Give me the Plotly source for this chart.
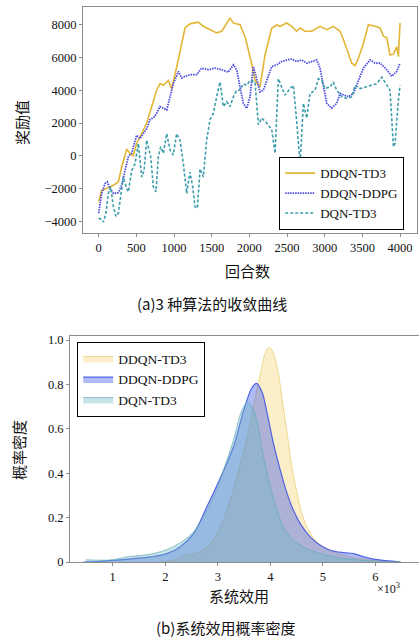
import plotly.graph_objects as go

# ---------------- data: (a) convergence curves ----------------
td3_x = [0, 40, 106, 195, 261, 305, 372, 416, 460, 504, 549, 637, 704, 770, 814, 858, 925, 969, 1035, 1102,
         1146, 1212, 1323, 1389, 1478, 1566, 1633, 1743, 1788, 1876, 1947, 1987, 2031, 2075, 2142, 2208, 2296, 2363, 2407, 2496,
         2562, 2628, 2673, 2739, 2828, 2938, 3027, 3115, 3204, 3248, 3292, 3359, 3403, 3447, 3513, 3580, 3668, 3735, 3779, 3823,
         3867, 3912, 3956, 3978, 4000]
td3_y = [-2800, -2100, -2000, -1800, -1600, -700, 400, 150, 0, 750, 1150, 2000, 3000, 4000, 4400, 4300, 4600, 4100, 5400, 6900,
         7800, 8050, 8150, 7900, 7700, 7500, 7600, 8400, 8100, 8000, 7200, 6500, 5600, 4600, 4200, 6150, 7780, 7980, 7900, 8100,
         7900, 7600, 7800, 7600, 7600, 7900, 7700, 7900, 7600, 7100, 6500, 5650, 5500, 5950, 6850, 8000, 7900, 7800, 7300, 7200,
         6150, 6200, 6650, 6050, 8100]

ddpg_x = [0, 40, 84, 115, 150, 195, 261, 305, 350, 394, 438, 482, 504, 549, 593, 637, 681, 748, 814, 858,
          903, 947, 991, 1058, 1102, 1146, 1212, 1301, 1367, 1456, 1544, 1633, 1721, 1788, 1832, 1876, 1920, 1965, 2009, 2053,
          2097, 2142, 2186, 2230, 2297, 2363, 2429, 2496, 2562, 2628, 2695, 2761, 2828, 2894, 2938, 2982, 3027, 3093, 3159, 3204,
          3270, 3314, 3381, 3447, 3513, 3602, 3668, 3735, 3823, 3890, 3956, 4000]
ddpg_y = [-3500, -2300, -1700, -1600, -2000, -2300, -2250, -1800, -900, -50, 150, 950, 1250, 1050, 1350, 1650, 2200, 2400, 3000, 2900,
          2800, 3600, 4400, 5150, 4750, 4850, 4950, 4950, 5350, 5250, 5350, 5250, 5100, 5550, 5250, 4200, 3200, 2900, 3600, 5450,
          4600, 3900, 4000, 4600, 5450, 5550, 5750, 5850, 5900, 5750, 5850, 5650, 5750, 5850, 5350, 4200, 3200, 2900, 3200, 3800,
          3700, 3600, 3800, 4600, 5350, 5850, 5650, 5650, 5250, 4850, 5150, 5650]

dqn_x = [0, 40, 62, 97, 128, 159, 195, 230, 261, 292, 327, 372, 394, 438, 482, 527, 571, 602, 637, 690,
         726, 761, 792, 823, 858, 903, 947, 991, 1035, 1080, 1124, 1168, 1212, 1248, 1279, 1310, 1345, 1389, 1434, 1478,
         1522, 1566, 1611, 1655, 1699, 1743, 1788, 1832, 1876, 1920, 1965, 2009, 2075, 2120, 2164, 2230, 2297, 2341, 2385, 2429,
         2474, 2540, 2584, 2628, 2673, 2717, 2761, 2805, 2872, 2916, 2960, 3005, 3071, 3115, 3159, 3226, 3292, 3359, 3403, 3469,
         3536, 3602, 3690, 3757, 3823, 3867, 3912, 3934, 3978, 4000]
dqn_y = [-3800, -3900, -4050, -3500, -2300, -1900, -3100, -3700, -3500, -2500, -1300, -2000, -2200, -900, -500, 750, -1300, -900, 950, -50,
         -1900, -2200, -50, 550, 150, 1350, 350, 50, 1350, 950, -500, -2300, -1000, -1900, -3100, -3200, -800, -1300, 1000, 2200,
         2600, 3600, 4500, 3000, 3300, 3000, 3600, 4000, 4000, 4400, 4300, 4600, 4500, 1900, 2300, 2000, 1600, 150, 4700, 4200,
         3700, 4100, 4300, 2100, -500, 3200, 2300, 3800, 4000, 4700, 4600, 4100, 4200, 4500, 4000, 3600, 3500, 3600, 4300, 4100,
         4200, 4300, 4400, 4800, 4300, 4000, 550, 750, 3400, 4300]

series_names = ["DDQN-TD3", "DDQN-DDPG", "DQN-TD3"]
top_xticks = [0, 500, 1000, 1500, 2000, 2500, 3000, 3500, 4000]
top_yticks = [-4000, -2000, 0, 2000, 4000, 6000, 8000]

# ---------------- data: (b) probability density (x in 10^3) ----------------
kde_td3_x = [1.90, 2.16, 2.38, 2.66, 2.86, 3.05, 3.24, 3.43, 3.59, 3.71, 3.84, 3.90, 3.97, 4.03, 4.13, 4.22, 4.32, 4.41,
             4.51, 4.60, 4.73, 4.89, 5.08, 5.27, 5.52, 5.84, 6.16, 6.48]
kde_td3_y = [0, 0.008, 0.03, 0.045, 0.083, 0.158, 0.28, 0.44, 0.59, 0.74, 0.88, 0.94, 0.967, 0.955, 0.88, 0.74, 0.58, 0.43,
             0.31, 0.22, 0.143, 0.09, 0.06, 0.038, 0.023, 0.01, 0.003, 0]

kde_ddpg_x = [0.44, 0.76, 1.08, 1.39, 1.71, 2.03, 2.28, 2.54, 2.79, 3.05, 3.30, 3.49, 3.65, 3.74, 3.84, 3.94, 4.06, 4.19,
              4.32, 4.44, 4.57, 4.76, 4.95, 5.14, 5.40, 5.59, 5.78, 5.97, 6.22, 6.48]
kde_ddpg_y = [0, 0.003, 0.008, 0.015, 0.023, 0.038, 0.068, 0.128, 0.248, 0.38, 0.52, 0.68, 0.785, 0.805, 0.767, 0.67, 0.534, 0.414,
              0.308, 0.233, 0.173, 0.113, 0.075, 0.053, 0.042, 0.038, 0.023, 0.013, 0.006, 0]

kde_dqn_x = [0.49, 0.76, 1.01, 1.27, 1.52, 1.78, 2.03, 2.28, 2.51, 2.73, 2.92, 3.11, 3.30, 3.46, 3.57, 3.68, 3.78, 3.87,
             4.00, 4.13, 4.25, 4.41, 4.57, 4.76, 4.95, 5.21, 5.52, 5.84, 6.16, 6.48]
kde_dqn_y = [0.01, 0.008, 0.01, 0.023, 0.029, 0.038, 0.056, 0.086, 0.128, 0.203, 0.293, 0.414, 0.55, 0.684, 0.72, 0.684, 0.594, 0.474,
             0.338, 0.233, 0.158, 0.105, 0.075, 0.053, 0.038, 0.023, 0.012, 0.006, 0.0015, 0]

bot_xticks = [1, 2, 3, 4, 5, 6]
bot_yticks = [0, 0.2, 0.4, 0.6, 0.8, 1.0]
bot_yticktext = ["0", "0.2", "0.4", "0.6", "0.8", "1.0"]

# ---------------- styles ----------------
W, H = 420, 638
SERIF = "Liberation Serif, Times New Roman, serif"
CJK = "Noto Sans CJK SC, sans-serif"
c_yel, c_blu, c_teal = "#E3B637", "#4C4CE0", "#3C9CAA"

def px_x(p):
    return p / W

def px_y(p):
    return 1 - p / H

fig = go.Figure()

# top chart
fig.add_trace(go.Scatter(x=td3_x, y=td3_y, mode="lines", name=series_names[0],
                         line=dict(color=c_yel, width=1.6), xaxis="x", yaxis="y", legend="legend"))
fig.add_trace(go.Scatter(x=ddpg_x, y=ddpg_y, mode="lines", name=series_names[1],
                         line=dict(color=c_blu, width=1.8, dash="1.5px,1px"), xaxis="x", yaxis="y", legend="legend"))
fig.add_trace(go.Scatter(x=dqn_x, y=dqn_y, mode="lines", name=series_names[2],
                         line=dict(color=c_teal, width=1.6, dash="3px,2px"), xaxis="x", yaxis="y", legend="legend"))

# bottom chart
fig.add_trace(go.Scatter(x=kde_td3_x, y=kde_td3_y, mode="lines", name=series_names[0], fill="tozeroy",
                         fillcolor="rgba(242,205,90,0.32)", line=dict(color="rgba(225,195,90,0.6)", width=1),
                         line_shape="spline", xaxis="x2", yaxis="y2", legend="legend2"))
fig.add_trace(go.Scatter(x=kde_ddpg_x, y=kde_ddpg_y, mode="lines", name=series_names[1], fill="tozeroy",
                         fillcolor="rgba(55,85,230,0.40)", line=dict(color="rgba(60,80,225,0.85)", width=1.2),
                         line_shape="spline", xaxis="x2", yaxis="y2", legend="legend2"))
fig.add_trace(go.Scatter(x=kde_dqn_x, y=kde_dqn_y, mode="lines", name=series_names[2], fill="tozeroy",
                         fillcolor="rgba(110,185,195,0.38)", line=dict(color="rgba(100,170,185,0.7)", width=1),
                         line_shape="spline", xaxis="x2", yaxis="y2", legend="legend2"))

axis_common = dict(showgrid=False, zeroline=False, showline=True, linecolor="#8c8c8c", linewidth=1,
                   ticks="outside", ticklen=3, tickcolor="#8c8c8c", automargin=False,
                   tickfont=dict(family=SERIF, size=12.5, color="#111"))

fig.update_layout(
    width=W, height=H, margin=dict(l=0, r=0, t=0, b=0),
    paper_bgcolor="white", plot_bgcolor="white",
    xaxis=dict(domain=[px_x(83), px_x(417)], range=[-208, 4225], tickvals=top_xticks,
               anchor="y", mirror=True, **axis_common),
    yaxis=dict(domain=[px_y(233), px_y(7)], range=[-4713, 9079], tickvals=top_yticks,
               anchor="x", mirror=True, **axis_common),
    xaxis2=dict(domain=[px_x(70), px_x(419)], range=[0.187, 6.83], tickvals=bot_xticks,
                anchor="y2", mirror=True, **axis_common),
    yaxis2=dict(domain=[px_y(562), px_y(336)], range=[0, 1.018], tickvals=bot_yticks, ticktext=bot_yticktext,
                anchor="x2", mirror=False, **axis_common),
    legend=dict(x=px_x(404), xanchor="right", y=px_y(230), yanchor="bottom",
                bgcolor="white", bordercolor="black", borderwidth=1.2,
                font=dict(family=SERIF, size=13, color="#111"), itemwidth=30,
                tracegroupgap=0),
    legend2=dict(x=px_x(77), xanchor="left", y=px_y(342), yanchor="top",
                 bgcolor="white", bordercolor="black", borderwidth=1.2,
                 font=dict(family=SERIF, size=13.5, color="#111"), itemwidth=30,
                 tracegroupgap=0),
    showlegend=True,
)

def label(text, xp, yp, size=15, angle=0, family=CJK):
    fig.add_annotation(text=text, x=px_x(xp), y=px_y(yp), xref="paper", yref="paper",
                       showarrow=False, textangle=angle, xanchor="center", yanchor="middle",
                       font=dict(family=family, size=size, color="#111"))

label("奖励值", 22, 123, angle=-90)
label("回合数", 247, 270)
label("(a)3 种算法的收敛曲线", 212, 303, size=15)
label("概率密度", 18, 450, angle=-90)
label("系统效用", 239, 595)
label("×10<sup>3</sup>", 388, 588, size=12, family=SERIF)
label("(b)系统效用概率密度", 225, 627, size=15)

# remove the default 8px page margin so the figure fills the 420x638 window exactly
fig.write_html("out.html", config={"displayModeBar": False},
               post_script="document.body.style.margin='0';document.body.style.padding='0';"
                           "document.documentElement.style.overflow='hidden';")
